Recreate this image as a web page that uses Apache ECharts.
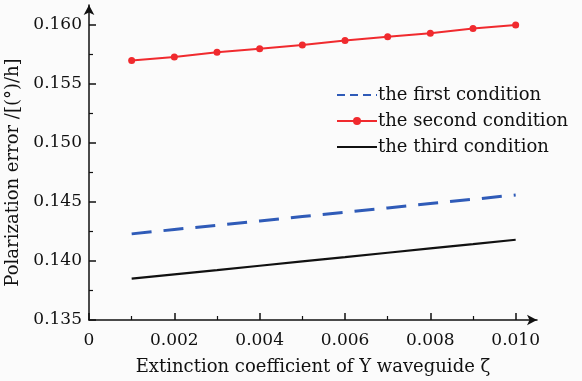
<!DOCTYPE html>
<html>
<head>
<meta charset="utf-8">
<script src="https://cdn.jsdelivr.net/npm/echarts@6/dist/echarts.min.js"></script>
<style>
    html, body { margin: 0; padding: 0; background: #fbfbfb; }
    #main { width: 582px; height: 381px; }
</style>
</head>
<body>
<div id="main"></div>
<script>
    var xValues = [0.001, 0.002, 0.003, 0.004, 0.005, 0.006, 0.007, 0.008, 0.009, 0.010];
    var firstCond = [0.1423, 0.14267, 0.14303, 0.1434, 0.14377, 0.14413, 0.1445, 0.14487, 0.14523, 0.1456];
    var secondCond = [0.1570, 0.1573, 0.1577, 0.1580, 0.1583, 0.1587, 0.1590, 0.1593, 0.1597, 0.1600];
    var thirdCond = [0.1385, 0.13887, 0.13923, 0.1396, 0.13997, 0.14033, 0.1407, 0.14107, 0.14143, 0.1418];
    var seriesNames = ['the first condition', 'the second condition', 'the third condition'];
    var xTicks = [0, 0.002, 0.004, 0.006, 0.008, 0.010];
    var xMinorTicks = [0.001, 0.003, 0.005, 0.007, 0.009];
    var yTicks = [0.135, 0.140, 0.145, 0.150, 0.155, 0.160];
    var yMinorTicks = [0.1375, 0.1425, 0.1475, 0.1525, 0.1575];

    function pairs(ys) {
        return xValues.map(function (x, i) { return [x, ys[i]]; });
    }

    var font = 'DejaVu Serif';
    var chart = echarts.init(document.getElementById('main'));
    var axisLineStyle = { color: '#111', width: 1.5 };

    var option = {
        backgroundColor: '#fbfbfb',
        animation: false,
        textStyle: { fontFamily: font },
        grid: { left: 89, right: 45, top: 5, bottom: 61, containLabel: false, outerBoundsMode: 'none' },
        legend: {
            orient: 'vertical',
            left: 331,
            top: 81,
            itemWidth: 40,
            itemHeight: 10,
            itemGap: 8,
            textStyle: { fontFamily: font, fontSize: 18, color: '#111', padding: [0, 0, 0, -4] },
            data: [
                { name: seriesNames[0], lineStyle: { type: [8, 5] }, itemStyle: { opacity: 0 } },
                { name: seriesNames[1] },
                { name: seriesNames[2], itemStyle: { opacity: 0 } }
            ]
        },
        xAxis: [{
            type: 'value',
            min: 0,
            max: 0.0105,
            interval: 0.002,
            name: 'Extinction coefficient of Y waveguide ζ',
            nameLocation: 'middle',
            nameGap: 38,
            nameTextStyle: { fontFamily: font, fontSize: 18, color: '#111' },
            axisLine: { lineStyle: axisLineStyle, symbol: ['none', 'arrow'], symbolSize: [8, 10] },
            axisTick: { inside: true, length: 7, customValues: xTicks, lineStyle: { color: '#111', width: 1.5 } },
            axisLabel: {
                customValues: xTicks,
                margin: 12,
                fontFamily: font, fontSize: 17, color: '#111',
                formatter: function (v) { return v === 0 ? '0' : v.toFixed(3); }
            },
            splitLine: { show: false }
        }, {
            type: 'value',
            min: 0,
            max: 0.0105,
            position: 'bottom',
            axisLine: { show: false },
            axisTick: { inside: true, length: 4, customValues: xMinorTicks, lineStyle: { color: '#111', width: 1.2 } },
            axisLabel: { show: false },
            splitLine: { show: false }
        }],
        yAxis: [{
            type: 'value',
            min: 0.135,
            max: 0.1617,
            interval: 0.005,
            name: 'Polarization error /[(°)/h]',
            nameLocation: 'middle',
            nameGap: 66,
            nameTextStyle: { fontFamily: font, fontSize: 18, color: '#111', padding: [0, 0, 0, -20] },
            axisLine: { lineStyle: axisLineStyle, symbol: ['none', 'arrow'], symbolSize: [8, 10] },
            axisTick: { inside: true, length: 7, customValues: yTicks, lineStyle: { color: '#111', width: 1.5 } },
            axisLabel: {
                customValues: yTicks,
                margin: 7,
                fontFamily: font, fontSize: 17, color: '#111',
                formatter: function (v) { return v.toFixed(3); }
            },
            splitLine: { show: false }
        }, {
            type: 'value',
            min: 0.135,
            max: 0.1617,
            position: 'left',
            axisLine: { show: false },
            axisTick: { inside: true, length: 4, customValues: yMinorTicks, lineStyle: { color: '#111', width: 1.2 } },
            axisLabel: { show: false },
            splitLine: { show: false }
        }],
        series: [
            {
                name: seriesNames[0],
                type: 'line',
                data: pairs(firstCond),
                symbol: 'none',
                lineStyle: { color: '#2f5bb8', width: 3, type: [20, 12] },
                itemStyle: { color: '#2f5bb8' }
            },
            {
                name: seriesNames[1],
                type: 'line',
                data: pairs(secondCond),
                symbol: 'circle',
                symbolSize: 7,
                lineStyle: { color: '#f02a2e', width: 2 },
                itemStyle: { color: '#f02a2e' }
            },
            {
                name: seriesNames[2],
                type: 'line',
                data: pairs(thirdCond),
                symbol: 'none',
                lineStyle: { color: '#111', width: 2.2 },
                itemStyle: { color: '#111' }
            }
        ]
    };
    chart.setOption(option);
</script>
</body>
</html>
